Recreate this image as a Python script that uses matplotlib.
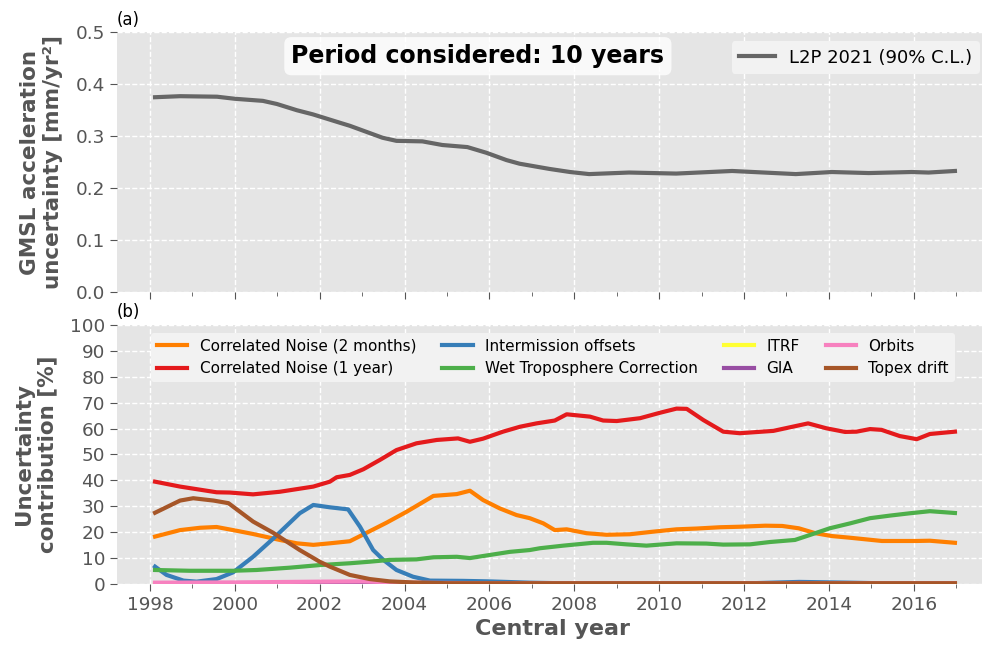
import matplotlib
matplotlib.use('Agg')
import matplotlib.pyplot as plt
from matplotlib.ticker import MultipleLocator

# ---- panel (a): total uncertainty ----
yr_total = [1998.12, 1998.71, 1999.58, 2000.0, 2000.66, 2000.99, 2001.46, 2001.84, 2002.47,
            2002.71, 2003.48, 2003.81, 2004.42, 2004.89, 2005.48, 2005.93, 2006.4, 2006.71,
            2007.41, 2007.9, 2008.35, 2009.29, 2010.4, 2011.72, 2013.22, 2014.07, 2014.94,
            2015.95, 2016.35, 2016.97]
total_unc = [0.375, 0.377, 0.376, 0.372, 0.368, 0.362, 0.350, 0.342, 0.326,
             0.320, 0.297, 0.291, 0.290, 0.283, 0.279, 0.268, 0.254, 0.247,
             0.237, 0.231, 0.227, 0.230, 0.228, 0.233, 0.227, 0.231, 0.229,
             0.231, 0.230, 0.233]

# ---- panel (b): contributions [%] ----
yr_cn2m = [1998.12, 1998.71, 1999.18, 1999.57, 1999.96, 2000.43, 2001.06, 2001.46, 2001.85,
           2002.24, 2002.71, 2003.11, 2003.58, 2004.05, 2004.68, 2005.23, 2005.54, 2005.85,
           2006.24, 2006.64, 2006.95, 2007.27, 2007.54, 2007.82, 2008.29, 2008.76, 2009.31,
           2009.86, 2010.41, 2010.88, 2011.43, 2011.9, 2012.5, 2012.9, 2013.29, 2013.68,
           2014.07, 2014.47, 2015.25, 2016.04, 2016.38, 2016.97]
cn2m = [18.3, 20.8, 21.7, 22.0, 20.8, 19.3, 17.0, 15.7, 15.1,
        15.7, 16.5, 19.8, 23.7, 27.9, 34.0, 34.7, 36.0, 32.4,
        29.2, 26.6, 25.4, 23.4, 20.8, 21.1, 19.6, 19.0, 19.2,
        20.2, 21.1, 21.4, 21.9, 22.1, 22.5, 22.4, 21.5, 19.6,
        18.5, 17.9, 16.6, 16.6, 16.7, 15.9]

yr_cn1y = [1998.12, 1998.71, 1999.57, 1999.88, 2000.43, 2001.06, 2001.85, 2002.24, 2002.40,
           2002.71, 2003.03, 2003.42, 2003.81, 2004.28, 2004.76, 2005.26, 2005.54, 2005.85,
           2006.32, 2006.72, 2007.11, 2007.54, 2007.82, 2008.37, 2008.68, 2009.0, 2009.55,
           2010.02, 2010.41, 2010.65, 2011.04, 2011.51, 2011.9, 2012.69, 2013.51, 2013.94,
           2014.38, 2014.65, 2014.97, 2015.24, 2015.67, 2016.07, 2016.38, 2016.97]
cn1y = [39.5, 37.6, 35.4, 35.3, 34.6, 35.6, 37.6, 39.5, 41.2,
        42.1, 44.3, 47.9, 51.7, 54.3, 55.6, 56.2, 54.9, 56.1,
        58.8, 60.7, 62.0, 63.1, 65.5, 64.6, 63.1, 62.9, 64.0,
        66.1, 67.7, 67.6, 63.3, 58.8, 58.2, 59.1, 62.0, 60.1,
        58.7, 58.8, 59.8, 59.5, 57.1, 55.9, 57.9, 58.8]

yr_inter = [1998.12, 1998.39, 1998.79, 1999.1, 1999.57, 1999.96, 2000.43, 2000.91, 2001.53,
            2001.85, 2002.24, 2002.67, 2002.95, 2003.26, 2003.5, 2003.81, 2004.2, 2004.6,
            2005.38, 2006.0, 2006.95, 2008.0, 2011.0, 2012.2, 2013.3, 2014.5, 2015.5, 2016.97]
inter = [6.7, 3.5, 1.3, 0.9, 1.9, 4.5, 10.5, 17.6, 27.3,
         30.5, 29.6, 28.8, 22.1, 13.1, 9.3, 5.4, 2.8, 1.3,
         1.2, 1.0, 0.5, 0.2, 0.1, 0.3, 0.8, 0.5, 0.2, 0.1]

yr_wet = [1998.12, 1998.94, 1999.96, 2000.51, 2001.3, 2002.0, 2002.71, 2003.18, 2003.65,
          2004.28, 2004.68, 2005.23, 2005.54, 2006.01, 2006.48, 2006.95, 2007.19, 2007.74,
          2008.44, 2008.76, 2009.23, 2009.7, 2010.41, 2011.11, 2011.51, 2012.14, 2012.61,
          2013.2, 2013.55, 2014.02, 2014.5, 2014.97, 2015.44, 2015.91, 2016.38, 2016.97]
wet = [5.4, 5.1, 5.1, 5.4, 6.3, 7.3, 8.0, 8.6, 9.3,
       9.5, 10.3, 10.5, 10.0, 11.2, 12.4, 13.1, 13.8, 14.8,
       15.9, 15.9, 15.3, 14.8, 15.7, 15.6, 15.2, 15.3, 16.2,
       17.0, 18.9, 21.5, 23.4, 25.4, 26.4, 27.3, 28.1, 27.4]

yr_itrf = [1998.12, 2016.97]
itrf = [0.05, 0.05]

yr_gia = [1998.12, 2011.5, 2013.3, 2014.8, 2016.97]
gia = [0.1, 0.1, 0.4, 0.1, 0.1]

yr_orbits = [1998.12, 2000.0, 2002.0, 2003.0, 2004.0, 2006.0, 2010.0, 2016.97]
orbits = [0.5, 0.6, 0.9, 1.0, 0.5, 0.3, 0.3, 0.3]

yr_topex = [1998.12, 1998.71, 1999.02, 1999.5, 1999.85, 2000.43, 2000.9, 2001.53, 2002.0,
            2002.24, 2002.71, 2003.18, 2003.65, 2004.2, 2005.0, 2016.97]
topex = [27.5, 32.2, 33.1, 32.2, 31.2, 24.1, 19.8, 13.1, 8.6,
         6.7, 3.5, 1.9, 1.0, 0.6, 0.3, 0.3]

series = [
    (yr_cn2m, cn2m, 'Correlated Noise (2 months)', '#ff7f00'),
    (yr_cn1y, cn1y, 'Correlated Noise (1 year)', '#e41a1c'),
    (yr_inter, inter, 'Intermission offsets', '#377eb8'),
    (yr_wet, wet, 'Wet Troposphere Correction', '#4daf4a'),
    (yr_itrf, itrf, 'ITRF', '#ffff33'),
    (yr_gia, gia, 'GIA', '#984ea3'),
    (yr_orbits, orbits, 'Orbits', '#f781bf'),
    (yr_topex, topex, 'Topex drift', '#a65628'),
]

plt.style.use('ggplot')
plt.rcParams['font.family'] = ['DejaVu Sans']

fig = plt.figure(figsize=(9.82, 6.46), dpi=100)
ax1 = fig.add_axes([0.119, 0.548, 0.888, 0.402])
ax2 = fig.add_axes([0.119, 0.096, 0.888, 0.401])

ax1.plot(yr_total, total_unc, color='#666666', lw=3, label='L2P 2021 (90% C.L.)')
ax1.set_ylim(0, 0.5)
ax1.yaxis.set_major_locator(MultipleLocator(0.1))
ax1.legend(loc='upper right', fontsize=13, facecolor='#f2f2f2', framealpha=1, edgecolor='none')
ax1.text(0.414, 0.908, 'Period considered: 10 years', transform=ax1.transAxes,
         ha='center', va='center', fontsize=17, fontweight='bold', color='black',
         bbox=dict(boxstyle='round,pad=0.3', facecolor='white', alpha=0.8, edgecolor='none'))
ax1.set_ylabel('GMSL acceleration\nuncertainty [mm/yr²]', fontsize=15.5, fontweight='bold',
               color='#555555', labelpad=9)
ax1.text(0.0, 1.03, '(a)', transform=ax1.transAxes, fontsize=12, color='black')
ax1.tick_params(axis='x', labelbottom=False)

for yrs, vals, name, col in series:
    ax2.plot(yrs, vals, color=col, lw=3, label=name)
ax2.set_ylim(0, 100)
ax2.yaxis.set_major_locator(MultipleLocator(10))
ax2.legend(loc='upper center', ncol=4, fontsize=11, facecolor='#f2f2f2', framealpha=1,
           edgecolor='none', columnspacing=1.7)
ax2.set_ylabel('Uncertainty\ncontribution [%]', fontsize=15.5, fontweight='bold',
               color='#555555', labelpad=9)
ax2.set_xlabel('Central year', fontsize=16, fontweight='bold', color='#555555')
ax2.text(0.0, 1.03, '(b)', transform=ax2.transAxes, fontsize=12, color='black')

for ax in (ax1, ax2):
    ax.set_facecolor('#e5e5e5')
    ax.set_xlim(1997.22, 2017.77)
    ax.xaxis.set_major_locator(MultipleLocator(2))
    ax.xaxis.set_minor_locator(MultipleLocator(1))
    ax.grid(True, which='major', color='white', linestyle='--', linewidth=1)
    ax.grid(False, which='minor')
    ax.tick_params(axis='both', which='major', direction='out', length=5, color='#555555',
                   labelsize=13.3, labelcolor='#555555')
    ax.tick_params(axis='x', which='minor', direction='out', length=3, color='#555555')
    for sp in ax.spines.values():
        sp.set_visible(False)

fig.align_ylabels([ax1, ax2])
fig.savefig('out.png', dpi=100)
